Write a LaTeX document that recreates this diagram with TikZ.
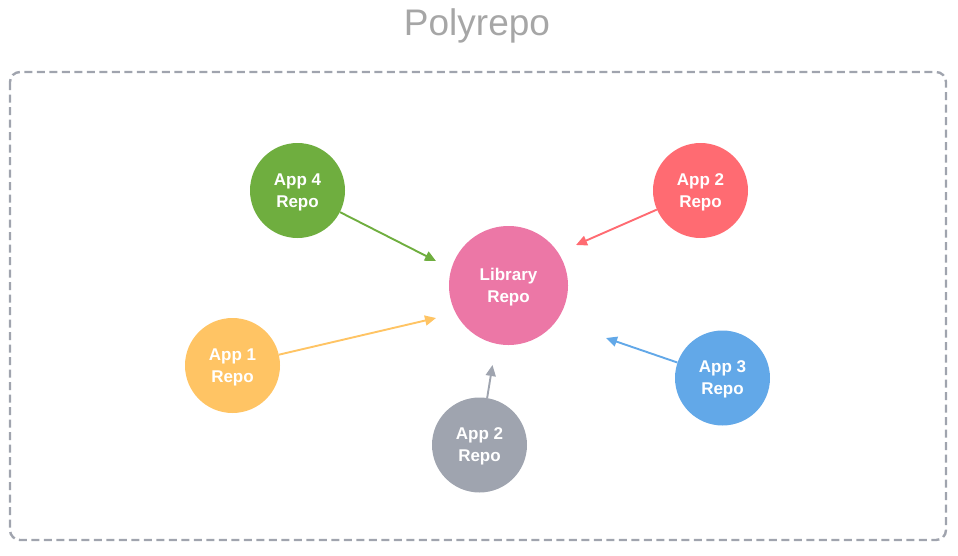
\documentclass[tikz,border=0pt]{standalone}
\usepackage{fontspec}
\setmainfont{Liberation Sans}
\usepackage{xcolor}
\usetikzlibrary{arrows.meta, positioning}

\definecolor{repogreen}{HTML}{6FAE3F}
\definecolor{repored}{HTML}{FF6B72}
\definecolor{repoyellow}{HTML}{FFC464}
\definecolor{repoblue}{HTML}{62A8E8}
\definecolor{repogray}{HTML}{9FA4AF}
\definecolor{repopink}{HTML}{EC77A6}
\definecolor{framegray}{HTML}{A0A4AE}
\definecolor{titlegray}{HTML}{A6A6A6}

\tikzset{
    repo/.style={circle, minimum size=95pt, inner sep=0pt, text=white, text depth=-4pt,
        font=\fontsize{17}{22}\selectfont\bfseries, align=center},
    link/.style={line width=1.9pt, -{Triangle[length=11pt, width=10pt]}}
}

\begin{document}
\begin{tikzpicture}[x=1pt, y=-1pt]
        \useasboundingbox (0, 0) rectangle (958, 555);

        \node[text=titlegray, font=\fontsize{37}{40}\selectfont] (title) at (477, 26) {Polyrepo};
        \draw[framegray, line width=2.4pt, dash pattern=on 8pt off 4.5pt, rounded corners=10pt]
            (10, 72) rectangle (946, 540);

        \node[repo, fill=repopink, minimum size=119pt] (lib) at (508.5, 285.5) {Library\\Repo};
        \node[repo, fill=repogreen] (app4) at (297.5, 190.5) {App 4\\Repo};
        \node[repo, fill=repored] (app2) at (700.5, 190.5) {App 2\\Repo};
        \node[repo, fill=repoyellow] (app1) at (232.5, 365.5) {App 1\\Repo};
        \node[repo, fill=repoblue] (app3) at (722.5, 378) {App 3\\Repo};
        \node[repo, fill=repogray] (app2b) at (479.5, 445) {App 2\\Repo};

        \coordinate (in4) at (436, 261);
        \coordinate (in2) at (576, 245);
        \coordinate (in1) at (436, 318);
        \coordinate (in3) at (606, 338);
        \coordinate (in2b) at (492.5, 365);

        \draw[link, repogreen] (app4) to (in4);
        \draw[link, repored] (app2) to (in2);
        \draw[link, repoyellow] (app1) to (in1);
        \draw[link, repoblue] (app3) to (in3);
        \draw[link, repogray] (app2b) to (in2b);
    \end{tikzpicture}
\end{document}
